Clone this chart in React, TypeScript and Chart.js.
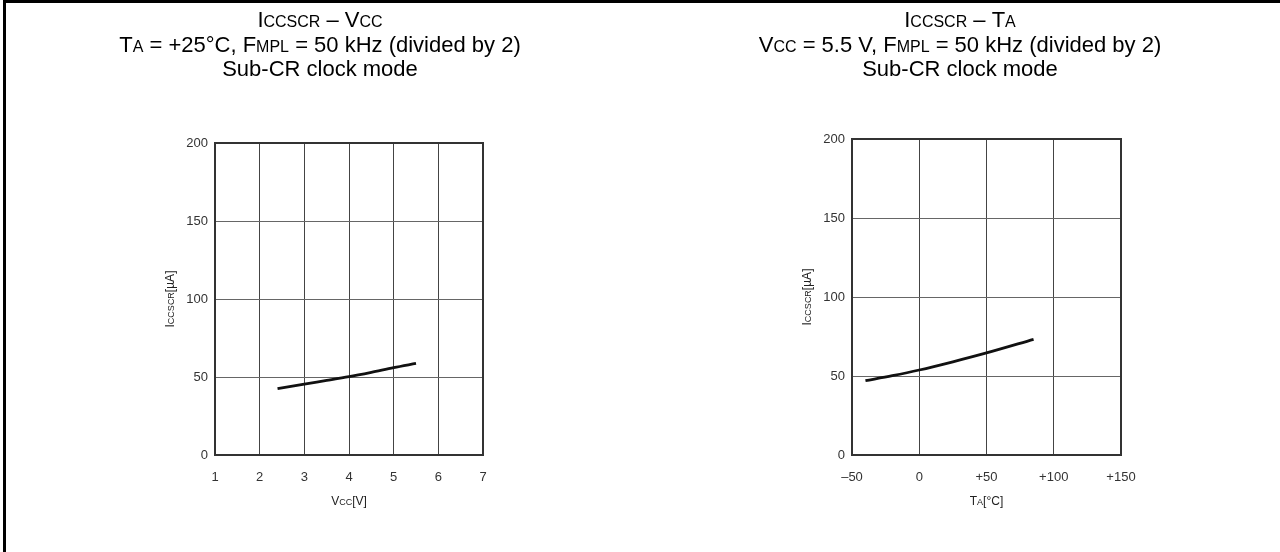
import React, { useEffect, useRef } from "react";
import { Chart, registerables } from "chart.js";

Chart.register(...registerables);

// ---- data ----
const vccValues = [2.4, 3, 3.5, 4, 4.5, 5, 5.5];
const iccVsVcc = [42.5, 45.5, 47.8, 50.2, 53, 56, 58.7];
const taValues = [-40, -20, 0, 25, 50, 85];
const iccVsTa = [47, 50.2, 53.8, 59, 64.6, 73.2];
const taTickLabels = ["–50", "0", "+50", "+100", "+150"];

type Seg = { t: string; s?: boolean };

const leftTitle: Seg[][] = [
  [{ t: "I" }, { t: "CCSCR", s: true }, { t: " – V" }, { t: "CC", s: true }],
  [{ t: "T" }, { t: "A", s: true }, { t: " = +25°C, F" }, { t: "MPL", s: true }, { t: " = 50 kHz (divided by 2)" }],
  [{ t: "Sub-CR clock mode" }],
];
const rightTitle: Seg[][] = [
  [{ t: "I" }, { t: "CCSCR", s: true }, { t: " – T" }, { t: "A", s: true }],
  [{ t: "V" }, { t: "CC", s: true }, { t: " = 5.5 V, F" }, { t: "MPL", s: true }, { t: " = 50 kHz (divided by 2)" }],
  [{ t: "Sub-CR clock mode" }],
];
const yTitle: Seg[] = [{ t: "I" }, { t: "CCSCR", s: true }, { t: "[µA]" }];
const xTitleLeft: Seg[] = [{ t: "V" }, { t: "CC", s: true }, { t: "[V]" }];
const xTitleRight: Seg[] = [{ t: "T" }, { t: "A", s: true }, { t: "[°C]" }];

const TITLE_FONT = '"Liberation Sans", Arial, sans-serif';
const AXIS_FONT = '"Liberation Sans", Arial, sans-serif';

function drawRich(
  ctx: CanvasRenderingContext2D,
  segs: Seg[],
  x: number,
  y: number,
  size: number,
  small: number,
  family: string,
  sx = 1
) {
  let w = 0;
  for (const s of segs) {
    ctx.font = `${s.s ? small : size}px ${family}`;
    w += ctx.measureText(s.t).width;
  }
  ctx.save();
  ctx.translate(x, y);
  ctx.scale(sx, 1);
  let cx = -w / 2;
  ctx.textAlign = "left";
  ctx.textBaseline = "alphabetic";
  for (const s of segs) {
    ctx.font = `${s.s ? small : size}px ${family}`;
    ctx.fillText(s.t, cx, 0);
    cx += ctx.measureText(s.t).width;
  }
  ctx.restore();
}

const textPlugin = {
  id: "richText",
  afterDraw(chart: any, _args: any, opts: any) {
    const ctx: CanvasRenderingContext2D = chart.ctx;
    const a = chart.chartArea;
    ctx.save();
    // plot frame
    ctx.strokeStyle = "#333";
    ctx.lineWidth = 2;
    ctx.strokeRect(a.left, a.top, a.right - a.left, a.bottom - a.top);
    ctx.fillStyle = "#000";
    const lines: Seg[][] = opts.title;
    const ys = [27, 52, 76];
    lines.forEach((l, i) => drawRich(ctx, l, 320, ys[i], 22, 16, TITLE_FONT, 1));
    ctx.fillStyle = "#222";
    drawRich(ctx, opts.xTitle, (a.left + a.right) / 2, a.bottom + 50, 12, 9, AXIS_FONT);
    ctx.translate(a.left - 41, (a.top + a.bottom) / 2);
    ctx.rotate(-Math.PI / 2);
    drawRich(ctx, yTitle, 0, 0, 12, 9, AXIS_FONT);
    ctx.restore();
  },
};

function makeConfig(
  xs: number[],
  ys: number[],
  xMin: number,
  xMax: number,
  xStep: number,
  xLabel: (v: number, i: number) => string,
  top: number,
  right: number,
  yWidth: number,
  title: Seg[][],
  xTitle: Seg[]
): any {
  const tickFont = { family: AXIS_FONT, size: 13 };
  return {
    type: "line",
    data: {
      datasets: [
        {
          data: xs.map((x, i) => ({ x, y: ys[i] })),
          borderColor: "#111",
          borderWidth: 2.8,
          pointRadius: 0,
          tension: 0.4,
          cubicInterpolationMode: "monotone",
          fill: false,
        },
      ],
    },
    options: {
      responsive: false,
      animation: false,
      devicePixelRatio: 1,
      layout: { padding: { top, right, left: 0, bottom: 0 } },
      plugins: {
        legend: { display: false },
        tooltip: { enabled: false },
        richText: { title, xTitle },
      },
      scales: {
        x: {
          type: "linear",
          min: xMin,
          max: xMax,
          ticks: { stepSize: xStep, font: tickFont, color: "#333", padding: 15, maxRotation: 0, callback: xLabel },
          grid: { color: "#444", lineWidth: 1, drawTicks: false },
          border: { display: false },
          afterFit: (s: any) => {
            s.height = 97;
          },
        },
        y: {
          type: "linear",
          min: 0,
          max: 200,
          ticks: { stepSize: 50, font: tickFont, color: "#333", padding: 7 },
          grid: { color: "#666", lineWidth: 1, drawTicks: false },
          border: { display: false },
          afterFit: (s: any) => {
            s.width = yWidth;
          },
        },
      },
    },
    plugins: [textPlugin],
  };
}

function Panel(props: { config: any; left: number }) {
  const ref = useRef<HTMLCanvasElement | null>(null);
  useEffect(() => {
    const chart = new Chart(ref.current as HTMLCanvasElement, props.config);
    return () => chart.destroy();
  }, []);
  return (
    <canvas
      ref={ref}
      width={640}
      height={552}
      style={{ position: "absolute", left: props.left, top: 0, width: 640, height: 552 }}
    />
  );
}

export default function App() {
  const leftCfg = makeConfig(vccValues, iccVsVcc, 1, 7, 1, (v: number) => String(v), 143, 157, 215, leftTitle, xTitleLeft);
  const rightCfg = makeConfig(
    taValues,
    iccVsTa,
    -50,
    150,
    50,
    (_v: number, i: number) => taTickLabels[i] ?? "",
    139,
    159,
    212,
    rightTitle,
    xTitleRight
  );
  return (
    <div style={{ position: "fixed", left: 0, top: 0, width: 1280, height: 552, background: "#fff", overflow: "hidden" }}>
      <div
        style={{
          position: "absolute",
          left: 3,
          top: 0,
          width: 1277,
          height: 552,
          borderTop: "3px solid #000",
          borderLeft: "3px solid #000",
          boxSizing: "border-box",
        }}
      />
      <Panel config={leftCfg} left={0} />
      <Panel config={rightCfg} left={640} />
    </div>
  );
}
